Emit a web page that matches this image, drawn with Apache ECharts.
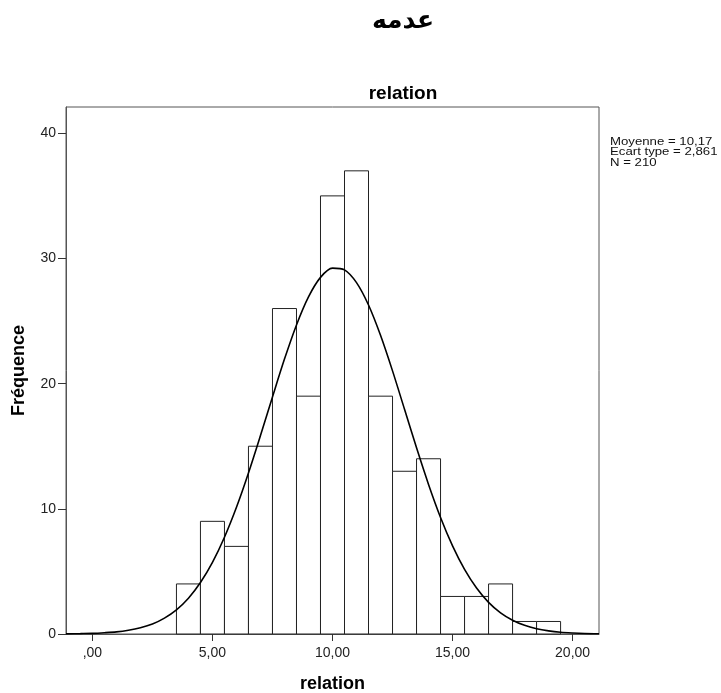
<!DOCTYPE html>
<html>
<head>
<meta charset="utf-8">
<script src="https://cdn.jsdelivr.net/npm/echarts@6/dist/echarts.min.js"></script>
<style>
  html, body { margin: 0; padding: 0; background: #fff; }
  #chart { width: 721px; height: 693px; }
</style>
</head>
<body>
<div id="chart"></div>
<script>
// histogramme "relation" -----------------------------------------
const bins = [4, 5, 6, 7, 8, 9, 10, 11, 12, 13, 14, 15, 16, 17, 18, 19];
const counts = [4, 9, 7, 15, 26, 19, 35, 37, 19, 13, 14, 3, 3, 4, 1, 1];

// courbe normale
const curveX = [-1.1, -0.5, 0, 0.5, 1, 1.5, 2, 2.5, 3, 3.5, 4, 4.5, 5, 5.5, 6, 6.5, 7, 7.5, 8, 8.5, 9, 9.5, 10, 10.5,
  11, 11.5, 12, 12.5, 13, 13.5, 14, 14.5, 15, 15.5, 16, 16.5, 17, 17.5, 18, 18.5, 19, 19.5, 20, 20.5, 21.1];
const curveY = [0.01, 0.03, 0.05, 0.1, 0.17, 0.3, 0.5, 0.8, 1.27, 1.93, 2.86, 4.11, 5.72, 7.73, 10.12, 12.86, 15.85, 18.94, 21.96, 24.69, 26.93, 28.49, 29.23, 29.09,
  28.07, 26.28, 23.86, 21.02, 17.95, 14.87, 11.95, 9.31, 7.04, 5.16, 3.67, 2.53, 1.69, 1.1, 0.69, 0.42, 0.25, 0.14, 0.08, 0.04, 0.02];

const xTicks = [0, 5, 10, 15, 20];
const xTickLabels = [",00", "5,00", "10,00", "15,00", "20,00"];
const yTicks = [0, 10, 20, 30, 40];
const statsLines = ["Moyenne = 10,17", "Ecart type = 2,861", "N = 210"];

const histData = bins.map((b, i) => [b, counts[i]]);
const curveData = curveX.map((x, i) => [x, curveY[i]]);

const chart = echarts.init(document.getElementById("chart"));
chart.setOption({
  backgroundColor: "#fff",
  animation: false,
  textStyle: { fontFamily: "Liberation Sans, Arial, sans-serif" },
  title: [
    {
      text: "عدمه",
      left: 398,
      top: 4,
      textAlign: "center",
      textStyle: { fontFamily: "DejaVu Sans", fontWeight: "bold", fontSize: 25, color: "#000" },
    },
    {
      text: "relation",
      left: 398,
      top: 79,
      textAlign: "center",
      textStyle: { fontFamily: "Liberation Sans", fontWeight: "bold", fontSize: 19, color: "#000" },
    },
  ],
  grid: {
    left: 66,
    right: 122,
    top: 107,
    bottom: 59,
    containLabel: false,
    outerBoundsMode: "none",
    show: true,
    borderColor: "#555",
    borderWidth: 1,
  },
  xAxis: {
    type: "value",
    min: -1.1,
    max: 21.1,
    name: "relation",
    nameLocation: "middle",
    nameGap: 41,
    nameTextStyle: { fontFamily: "Liberation Sans", fontWeight: "bold", fontSize: 18, color: "#000" },
    splitLine: { show: false },
    axisLine: { onZero: false, lineStyle: { color: "#555", width: 1 } },
    axisTick: { customValues: xTicks, length: 7, lineStyle: { color: "#333", width: 1 } },
    axisLabel: {
      customValues: xTicks,
      formatter: (v) => xTickLabels[xTicks.indexOf(v)],
      fontSize: 14,
      color: "#222",
      margin: 12,
    },
  },
  yAxis: {
    type: "value",
    min: 0,
    max: 42.1,
    name: "Fréquence",
    nameLocation: "middle",
    nameRotate: 90,
    nameGap: 38,
    nameTextStyle: { fontFamily: "Liberation Sans", fontWeight: "bold", fontSize: 18, color: "#000" },
    splitLine: { show: false },
    axisLine: { show: true, onZero: false, lineStyle: { color: "#555", width: 1 } },
    axisTick: { show: true, customValues: yTicks, length: 8, lineStyle: { color: "#333", width: 1 } },
    axisLabel: { customValues: yTicks, fontSize: 14, color: "#222", margin: 10 },
  },
  graphic: [
    {
      type: "text",
      left: 610,
      top: 136,
      scaleX: 1.2,
      style: {
        text: statsLines.join("\n"),
        font: "11px 'Liberation Sans', Arial, sans-serif",
        lineHeight: 10.5,
        fill: "#111",
      },
    },
  ],
  series: [
    {
      name: "Histogramme",
      type: "custom",
      data: histData,
      renderItem: (params, api) => {
        const x = api.value(0);
        const c = api.value(1);
        const p1 = api.coord([x - 0.5, c]);
        const p2 = api.coord([x + 0.5, 0]);
        return {
          type: "rect",
          shape: { x: p1[0], y: p1[1], width: p2[0] - p1[0], height: p2[1] - p1[1] },
          style: { fill: "#fff", stroke: "#222", lineWidth: 1 },
        };
      },
      z: 2,
    },
    {
      name: "Normale",
      type: "line",
      data: curveData,
      smooth: 0.3,
      showSymbol: false,
      lineStyle: { color: "#000", width: 1.6 },
      z: 3,
    },
  ],
});
</script>
</body>
</html>
